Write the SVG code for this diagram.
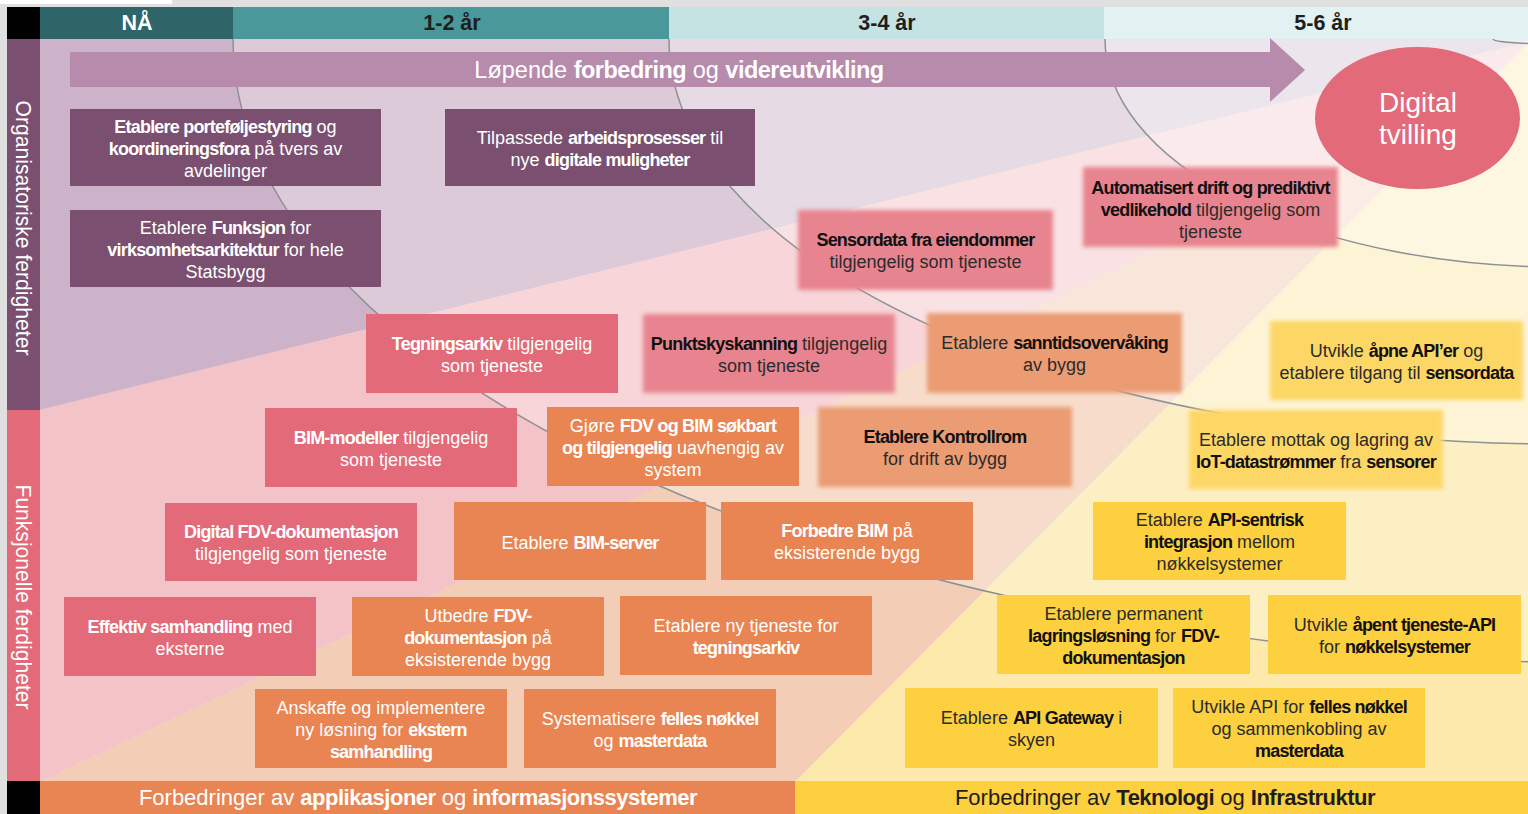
<svg xmlns="http://www.w3.org/2000/svg" width="1528" height="814" viewBox="0 0 1528 814">
<style>
text{font-family:"Liberation Sans",Arial,sans-serif;}
.t{font-size:18px;text-anchor:middle;transform:translateY(1.5px);}
.w{fill:#ffffff;}
.d{fill:#2b2b2b;}
.b{font-weight:bold;letter-spacing:-0.8px;}
.db{font-weight:bold;letter-spacing:-0.8px;fill:#111;}
.hd{font-size:21.5px;font-weight:bold;text-anchor:middle;}
.arc{fill:none;stroke:#8c9196;stroke-width:1.5;}
.ov{fill:#ffffff;fill-opacity:0.3;}
.pd{fill:#7a4f70;}
.pk{fill:#e26a79;}
.or{fill:#e98552;}
.ye{fill:#fcd03f;}
.pkl{fill:#e8848f;filter:url(#soft);}
.orl{fill:#eb9c73;filter:url(#soft);}
.yel{fill:#fdd766;filter:url(#soft);}
</style>
<defs>
<clipPath id="main"><rect x="40" y="39" width="1488" height="743"/></clipPath>
<filter id="soft" x="-5%" y="-10%" width="110%" height="120%"><feGaussianBlur stdDeviation="2"/></filter>
</defs>

<!-- margins -->
<rect x="0" y="0" width="1528" height="814" fill="#e0e0e0"/>
<rect x="0" y="0" width="172" height="4" fill="#ffffff"/>

<!-- header -->
<g id="header">
<rect x="7" y="7" width="33" height="32" fill="#000000"/>
<rect x="40" y="7" width="193" height="32" fill="#2f6568"/>
<rect x="233" y="7" width="436" height="32" fill="#4a9899"/>
<rect x="669" y="7" width="435" height="32" fill="#c6e3e3"/>
<rect x="1104" y="7" width="424" height="32" fill="#e2f1f1"/>
<text class="hd" x="137" y="30" fill="#ffffff">NÅ</text>
<text class="hd" x="452" y="30" fill="#1e1e1e">1-2 år</text>
<text class="hd" x="887" y="30" fill="#1e1e1e">3-4 år</text>
<text class="hd" x="1323" y="30" fill="#1e1e1e">5-6 år</text>
</g>

<!-- background -->
<g id="background" clip-path="url(#main)">
<polygon points="40,39 1528,39 1528,42 40,410" fill="#cdb3c9"/>
<polygon points="40,410 1528,42 1528,43 1473,98 40,782" fill="#f4c3c8"/>
<polygon points="40,782 1473,98 795,782" fill="#f4cdb7"/>
<polygon points="795,782 1528,43 1528,782" fill="#fde9ab"/>
<path class="ov" d="M233,39 A1417,625 0 0 0 1650,664 L1650,39 Z"/>
<path class="ov" d="M669,39 A891,405 0 0 0 1560,444 L1560,39 Z"/>
<path class="ov" d="M1105,39 A455,228 0 0 0 1560,267 L1560,39 Z"/>
<path class="ov" d="M1493,39 A62,5 0 0 0 1555,44 L1555,39 Z"/>
</g>

<!-- side bars -->
<g id="side-org">
<rect x="7" y="39" width="33" height="371" class="pd"/>
<text transform="translate(16,228) rotate(90)" x="0" y="0" font-size="22" fill="#ffffff" text-anchor="middle" textLength="255" lengthAdjust="spacingAndGlyphs">Organisatoriske ferdigheter</text>
</g>
<g id="side-func">
<rect x="7" y="410" width="33" height="372" class="pk"/>
<text transform="translate(16,597) rotate(90)" x="0" y="0" font-size="22" fill="#ffffff" text-anchor="middle" textLength="225" lengthAdjust="spacingAndGlyphs">Funksjonelle ferdigheter</text>
</g>

<!-- bottom bars -->
<g id="bottom-app">
<rect x="7" y="781" width="33" height="33" fill="#000000"/>
<rect x="40" y="781" width="755" height="33" class="or"/>
<text x="418" y="805" font-size="22" text-anchor="middle" fill="#ffffff">Forbedringer av <tspan font-weight="bold" letter-spacing="-0.5">applikasjoner</tspan> og <tspan font-weight="bold" letter-spacing="-0.5">informasjonssystemer</tspan></text>
</g>
<g id="bottom-tech">
<rect x="795" y="781" width="733" height="33" class="ye"/>
<text x="1165" y="805" font-size="22" text-anchor="middle" fill="#1e1e1e">Forbedringer av <tspan font-weight="bold" letter-spacing="-0.5">Teknologi</tspan> og <tspan font-weight="bold" letter-spacing="-0.5">Infrastruktur</tspan></text>
</g>

<!-- time arcs -->
<g id="connectors" clip-path="url(#main)">
<path class="arc" d="M233,39 A1417,625 0 0 0 1650,664"/>
<path class="arc" d="M669,39 A891,405 0 0 0 1560,444"/>
<path class="arc" d="M1105,39 A455,228 0 0 0 1560,267"/>
<path class="arc" d="M1493,39 A62,5 0 0 0 1555,44"/>
</g>

<!-- arrow -->
<g id="arrow">
<polygon points="70,52 1270,52 1270,38 1305,70 1270,102 1270,87 70,87" fill="#b68bab"/>
<text x="679" y="78" font-size="23.5" text-anchor="middle" fill="#ffffff">Løpende <tspan font-weight="bold" letter-spacing="-0.5">forbedring</tspan> og <tspan font-weight="bold" letter-spacing="-0.5">videreutvikling</tspan></text>
</g>

<!-- goal -->
<g id="digital-tvilling">
<ellipse cx="1417.5" cy="118" rx="102.5" ry="71" fill="#e26a79"/>
<text x="1418" y="112" font-size="28" text-anchor="middle" fill="#ffffff">Digital</text>
<text x="1418" y="144" font-size="28" text-anchor="middle" fill="#ffffff">tvilling</text>
</g>

<!-- organisational nodes -->
<g id="n-portefolje">
<rect x="70" y="109" width="311" height="77" class="pd"/>
<text class="t w" x="225.5" y="131"><tspan class="b">Etablere porteføljestyring</tspan> og</text>
<text class="t w" x="225.5" y="153"><tspan class="b">koordineringsfora</tspan> på tvers av</text>
<text class="t w" x="225.5" y="175">avdelinger</text>
</g>
<g id="n-funksjon">
<rect x="70" y="210" width="311" height="77" class="pd"/>
<text class="t w" x="225.5" y="232">Etablere <tspan class="b">Funksjon</tspan> for</text>
<text class="t w" x="225.5" y="254"><tspan class="b">virksomhetsarkitektur</tspan> for hele</text>
<text class="t w" x="225.5" y="276">Statsbygg</text>
</g>
<g id="n-arbeidsprosesser">
<rect x="445" y="109" width="310" height="77" class="pd"/>
<text class="t w" x="600" y="142">Tilpassede <tspan class="b">arbeidsprosesser</tspan> til</text>
<text class="t w" x="600" y="164">nye <tspan class="b">digitale muligheter</tspan></text>
</g>

<!-- pink nodes -->
<g id="n-tegningsarkiv">
<rect x="366" y="314" width="252" height="79" class="pk"/>
<text class="t w" x="492" y="348"><tspan class="b">Tegningsarkiv</tspan> tilgjengelig</text>
<text class="t w" x="492" y="370">som tjeneste</text>
</g>
<g id="n-bim-modeller">
<rect x="265" y="408" width="252" height="79" class="pk"/>
<text class="t w" x="391" y="442"><tspan class="b">BIM-modeller</tspan> tilgjengelig</text>
<text class="t w" x="391" y="464">som tjeneste</text>
</g>
<g id="n-digital-fdv">
<rect x="165" y="503" width="252" height="78" class="pk"/>
<text class="t w" x="291" y="536.5"><tspan class="b">Digital FDV-dokumentasjon</tspan></text>
<text class="t w" x="291" y="558.5">tilgjengelig som tjeneste</text>
</g>
<g id="n-samhandling">
<rect x="64" y="597" width="252" height="79" class="pk"/>
<text class="t w" x="190" y="631"><tspan class="b">Effektiv samhandling</tspan> med</text>
<text class="t w" x="190" y="653">eksterne</text>
</g>

<!-- light pink nodes -->
<g id="n-punktsky">
<rect x="643" y="314" width="252" height="79" class="pkl"/>
<text class="t d" x="769" y="348"><tspan class="db">Punktskyskanning</tspan> tilgjengelig</text>
<text class="t d" x="769" y="370">som tjeneste</text>
</g>
<g id="n-sensordata">
<rect x="798" y="210" width="255" height="80" class="pkl"/>
<text class="t d" x="925.5" y="244.5"><tspan class="db">Sensordata fra eiendommer</tspan></text>
<text class="t d" x="925.5" y="266.5">tilgjengelig som tjeneste</text>
</g>
<g id="n-automatisert">
<rect x="1083" y="167" width="255" height="80" class="pkl"/>
<text class="t d" x="1210.5" y="192"><tspan class="db">Automatisert drift og prediktivt</tspan></text>
<text class="t d" x="1210.5" y="214"><tspan class="db">vedlikehold</tspan> tilgjengelig som</text>
<text class="t d" x="1210.5" y="236">tjeneste</text>
</g>

<!-- orange nodes -->
<g id="n-sokbart">
<rect x="547" y="407" width="252" height="79" class="or"/>
<text class="t w" x="673" y="430">Gjøre <tspan class="b">FDV og BIM søkbart</tspan></text>
<text class="t w" x="673" y="452"><tspan class="b">og tilgjengelig</tspan> uavhengig av</text>
<text class="t w" x="673" y="474">system</text>
</g>
<g id="n-bim-server">
<rect x="454" y="502" width="252" height="78" class="or"/>
<text class="t w" x="580" y="547">Etablere <tspan class="b">BIM-server</tspan></text>
</g>
<g id="n-forbedre-bim">
<rect x="721" y="502" width="252" height="78" class="or"/>
<text class="t w" x="847" y="535.5"><tspan class="b">Forbedre BIM</tspan> på</text>
<text class="t w" x="847" y="557.5">eksisterende bygg</text>
</g>
<g id="n-utbedre-fdv">
<rect x="352" y="597" width="252" height="79" class="or"/>
<text class="t w" x="478" y="620">Utbedre <tspan class="b">FDV-</tspan></text>
<text class="t w" x="478" y="642"><tspan class="b">dokumentasjon</tspan> på</text>
<text class="t w" x="478" y="664">eksisterende bygg</text>
</g>
<g id="n-ny-tjeneste">
<rect x="620" y="596" width="252" height="79" class="or"/>
<text class="t w" x="746" y="630">Etablere ny tjeneste for</text>
<text class="t w" x="746" y="652"><tspan class="b">tegningsarkiv</tspan></text>
</g>
<g id="n-ekstern">
<rect x="255" y="689" width="252" height="79" class="or"/>
<text class="t w" x="381" y="712">Anskaffe og implementere</text>
<text class="t w" x="381" y="734">ny løsning for <tspan class="b">ekstern</tspan></text>
<text class="t w" x="381" y="756"><tspan class="b">samhandling</tspan></text>
</g>
<g id="n-felles-nokkel">
<rect x="524" y="689" width="252" height="79" class="or"/>
<text class="t w" x="650" y="723">Systematisere <tspan class="b">felles nøkkel</tspan></text>
<text class="t w" x="650" y="745">og <tspan class="b">masterdata</tspan></text>
</g>

<!-- light orange nodes -->
<g id="n-sanntid">
<rect x="927" y="313" width="255" height="80" class="orl"/>
<text class="t d" x="1054.5" y="347.5">Etablere <tspan class="db">sanntidsovervåking</tspan></text>
<text class="t d" x="1054.5" y="369.5">av bygg</text>
</g>
<g id="n-kontrollrom">
<rect x="818" y="407" width="254" height="80" class="orl"/>
<text class="t d" x="945" y="441.5"><tspan class="db">Etablere Kontrollrom</tspan></text>
<text class="t d" x="945" y="463.5">for drift av bygg</text>
</g>

<!-- light yellow nodes -->
<g id="n-apne-api">
<rect x="1270" y="321" width="253" height="79" class="yel"/>
<text class="t d" x="1396.5" y="355">Utvikle <tspan class="db">åpne API’er</tspan> og</text>
<text class="t d" x="1396.5" y="377">etablere tilgang til <tspan class="db">sensordata</tspan></text>
</g>
<g id="n-iot">
<rect x="1189" y="410" width="254" height="79" class="yel"/>
<text class="t d" x="1316" y="444">Etablere mottak og lagring av</text>
<text class="t d" x="1316" y="466"><tspan class="db">IoT-datastrømmer</tspan> fra <tspan class="db">sensorer</tspan></text>
</g>

<!-- yellow nodes -->
<g id="n-api-sentrisk">
<rect x="1093" y="502" width="253" height="78" class="ye"/>
<text class="t d" x="1219.5" y="524.5">Etablere <tspan class="db">API-sentrisk</tspan></text>
<text class="t d" x="1219.5" y="546.5"><tspan class="db">integrasjon</tspan> mellom</text>
<text class="t d" x="1219.5" y="568.5">nøkkelsystemer</text>
</g>
<g id="n-lagring">
<rect x="997" y="595" width="253" height="79" class="ye"/>
<text class="t d" x="1123.5" y="618">Etablere permanent</text>
<text class="t d" x="1123.5" y="640"><tspan class="db">lagringsløsning</tspan> for <tspan class="db">FDV-</tspan></text>
<text class="t d" x="1123.5" y="662"><tspan class="db">dokumentasjon</tspan></text>
</g>
<g id="n-tjeneste-api">
<rect x="1268" y="595" width="253" height="79" class="ye"/>
<text class="t d" x="1394.5" y="629">Utvikle <tspan class="db">åpent tjeneste-API</tspan></text>
<text class="t d" x="1394.5" y="651">for <tspan class="db">nøkkelsystemer</tspan></text>
</g>
<g id="n-gateway">
<rect x="905" y="688" width="253" height="80" class="ye"/>
<text class="t d" x="1031.5" y="722.5">Etablere <tspan class="db">API Gateway</tspan> i</text>
<text class="t d" x="1031.5" y="744.5">skyen</text>
</g>
<g id="n-api-felles">
<rect x="1173" y="688" width="252" height="80" class="ye"/>
<text class="t d" x="1299" y="711.5">Utvikle API for <tspan class="db">felles nøkkel</tspan></text>
<text class="t d" x="1299" y="733.5">og sammenkobling av</text>
<text class="t d" x="1299" y="755.5"><tspan class="db">masterdata</tspan></text>
</g>
</svg>
